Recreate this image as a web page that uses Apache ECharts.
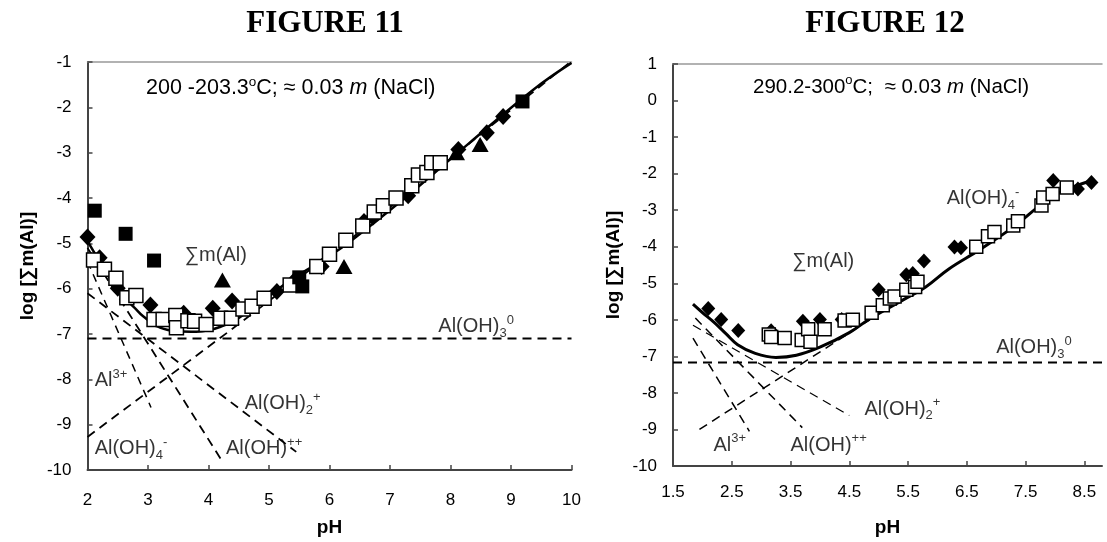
<!DOCTYPE html>
<html><head><meta charset="utf-8">
<script src="https://cdn.jsdelivr.net/npm/echarts@6/dist/echarts.min.js"></script>
<style>html,body{margin:0;padding:0;background:#fff}#c{width:1107px;height:542px}</style>
</head><body><div id="c"></div>
<script>
// ---------- FIGURE 11 (left) ----------
const L_xTicks = [2,3,4,5,6,7,8,9,10];
const L_total = [[2.0,-4.95],[2.2,-5.4],[2.37,-5.77],[2.5,-6.0],[2.65,-6.25],[2.8,-6.45],[2.92,-6.61],[3.2,-6.86],[3.5,-6.94],[3.8,-6.95],[4.0,-6.92],[4.2,-6.84],[4.41,-6.72],[4.6,-6.55],[4.85,-6.32],[5.1,-6.06],[5.4,-5.77],[6.0,-5.28],[6.4,-4.9],[7.2,-4.05],[8.3,-2.8],[9.4,-1.58],[10,-1.02]];
const L_al3 = [[2,-5.4],[3.05,-8.62]];
const L_aloh = [[2,-5.1],[4.2,-9.75]];
const L_aloh2 = [[2,-6.1],[5.45,-9.6]];
const L_aloh3 = [[2,-7.1],[10,-7.1]];
const L_aloh4 = [[2,-9.27],[4.4,-6.88],[6.4,-4.85],[10,-0.98]];
const L_openSq = [[2.1,-5.37],[2.28,-5.57],[2.47,-5.77],[2.65,-6.2],[2.8,-6.15],[3.1,-6.68],[3.25,-6.68],[3.46,-6.59],[3.47,-6.86],[3.66,-6.71],[3.77,-6.72],[3.96,-6.79],[4.2,-6.65],[4.38,-6.65],[4.57,-6.45],[4.72,-6.39],[4.92,-6.21],[5.35,-5.92],[5.79,-5.51],[6.0,-5.24],[6.27,-4.93],[6.55,-4.62],[6.74,-4.31],[6.89,-4.17],[7.1,-4.0],[7.36,-3.73],[7.47,-3.49],[7.61,-3.44],[7.69,-3.22],[7.83,-3.22]];
const L_filledSq = [[2.12,-4.28],[2.63,-4.79],[3.1,-5.38],[5.5,-5.75],[5.55,-5.95],[9.19,-1.87]];
const L_diamond = [[2.0,-4.86],[2.2,-5.32],[2.5,-5.99],[3.04,-6.36],[3.59,-6.54],[4.07,-6.43],[4.39,-6.27],[5.13,-6.06],[5.4,-5.85],[5.87,-5.51],[6.57,-4.52],[6.72,-4.42],[7.3,-3.95],[8.13,-2.93],[8.6,-2.56],[8.87,-2.2]];
const L_triangle = [[4.23,-5.81],[6.24,-5.51],[8.1,-3.0],[8.49,-2.82]];

// ---------- FIGURE 12 (right) ----------
const R_xTicks = [1.5,2.5,3.5,4.5,5.5,6.5,7.5,8.5];
const R_total = [[1.84,-5.57],[2.0,-5.8],[2.2,-6.07],[2.4,-6.38],[2.6,-6.68],[2.9,-6.92],[3.25,-7.03],[3.6,-6.97],[4.0,-6.75],[4.5,-6.35],[4.85,-5.97],[5.5,-5.38],[5.8,-5.1],[6.2,-4.6],[6.7,-4.1],[7.3,-3.45],[7.8,-2.8],[8.1,-2.5],[8.6,-2.2]];
const R_al3 = [[1.84,-6.5],[2.8,-9.05]];
const R_aloh = [[1.88,-5.95],[3.7,-8.95]];
const R_aloh2 = [[1.84,-6.15],[4.5,-8.62]];
const R_aloh3 = [[1.5,-7.17],[8.8,-7.17]];
const R_aloh4 = [[1.95,-9.0],[4.85,-6.0]];
const R_openSq = [[3.13,-6.4],[3.17,-6.47],[3.4,-6.5],[3.69,-6.55],[3.8,-6.26],[3.84,-6.6],[4.08,-6.26],[4.42,-6.02],[4.56,-6.0],[4.88,-5.81],[5.07,-5.6],[5.19,-5.42],[5.27,-5.36],[5.47,-5.18],[5.62,-5.1],[5.66,-4.96],[6.66,-4.0],[6.86,-3.71],[6.97,-3.6],[7.29,-3.42],[7.37,-3.3],[7.77,-2.87],[7.8,-2.65],[7.96,-2.56],[8.2,-2.38]];
const R_diamond = [[2.1,-5.69],[2.32,-5.99],[2.61,-6.29],[3.17,-6.3],[3.71,-6.04],[4.0,-5.99],[4.37,-5.99],[5.0,-5.18],[5.47,-4.77],[5.58,-4.73],[5.77,-4.39],[6.29,-4.01],[6.4,-4.03],[7.97,-2.19],[8.39,-2.42],[8.62,-2.24]];

// ---------- text labels (anchor = text left / vertical centre) ----------
const L_labels = [
  {pos:[3.6,-5.26], text:'{n|∑m(Al)}'},
  {pos:[7.79,-6.84], text:'{n|Al(OH)}{sub|3}{sup|0}'},
  {pos:[2.11,-8.03], text:'{n|Al}{sup|3+}'},
  {pos:[4.59,-8.54], text:'{n|Al(OH)}{sub|2}{sup|+}'},
  {pos:[2.11,-9.53], text:'{n|Al(OH)}{sub|4}{sup|-}'},
  {pos:[4.28,-9.53], text:'{n|Al(OH)}{sup|++}'}
];
const R_labels = [
  {pos:[3.52,-4.41], text:'{n|∑m(Al)}'},
  {pos:[6.15,-2.69], text:'{n|Al(OH)}{sub|4}{sup|-}'},
  {pos:[6.99,-6.76], text:'{n|Al(OH)}{sub|3}{sup|0}'},
  {pos:[4.75,-8.44], text:'{n|Al(OH)}{sub|2}{sup|+}'},
  {pos:[2.18,-9.43], text:'{n|Al}{sup|3+}'},
  {pos:[3.49,-9.43], text:'{n|Al(OH)}{sup|++}'}
];
const L_note = '{n|200 -203.3}{sup|o}{n|C; ≈ 0.03 }{i|m}{n| (NaCl)}';
const R_note = '{n|290.2-300}{sup|o}{n|C;  ≈ 0.03 }{i|m}{n| (NaCl)}';

const FONT = 'Liberation Sans';
function mkRich(fs, ss){
  return {
    n:{fontSize:fs, fontFamily:FONT, fontWeight:'normal', color:'#000', lineHeight:26, verticalAlign:'middle'},
    sup:{fontSize:ss, fontFamily:FONT, fontWeight:'normal', color:'#000', lineHeight:13, verticalAlign:'top'},
    sub:{fontSize:ss, fontFamily:FONT, fontWeight:'normal', color:'#000', lineHeight:13, verticalAlign:'bottom'},
    i:{fontSize:fs, fontFamily:FONT, fontWeight:'normal', color:'#000', lineHeight:26, fontStyle:'italic'}
  };
}
const richLabel = mkRich(20, 13);
const richNoteL = mkRich(21.5, 13.5);
const richNoteR = mkRich(20.5, 13);

const chart = echarts.init(document.getElementById('c'), null, {renderer:'canvas'});

function dashed(name, data, idx, w, dash){
  return {name, type:'line', data, xAxisIndex:idx, yAxisIndex:idx, symbol:'none', silent:true,
    lineStyle:{color:'#000', width:w, type:dash}, z:2};
}
function scat(name, data, idx, symbol, size, fill, z){
  return {name, type:'scatter', data, xAxisIndex:idx, yAxisIndex:idx, symbol, symbolSize:size,
    itemStyle:{color:fill, borderColor:'#000', borderWidth: fill==='#fff'?1.5:0, opacity:1}, z};
}
function labels(list, idx){
  return {type:'scatter', xAxisIndex:idx, yAxisIndex:idx, symbolSize:1, silent:true, z:10,
    itemStyle:{color:'rgba(0,0,0,0)'},
    data:list.map(l=>({value:l.pos, label:{show:true, position:'right', distance:0, formatter:l.text, rich:richLabel}}))};
}

const axisCommon = {
  axisLine:{show:true, onZero:false, lineStyle:{color:'#444', width:2}},
  axisTick:{show:true, inside:true, length:5, lineStyle:{color:'#444', width:1.5}},
  splitLine:{show:false},
  axisLabel:{color:'#000', fontSize:17, fontFamily:FONT}
};
const nameStyle = {color:'#000', fontSize:19, fontWeight:'bold', fontFamily:FONT};
const titleStyle = {fontFamily:'Liberation Serif', fontWeight:'bold', fontSize:31, color:'#000'};

chart.setOption({
  animation:false,
  backgroundColor:'#fff',
  title:[
    {text:'FIGURE 11', left:325, top:8, textAlign:'center', padding:0, textStyle:titleStyle},
    {text:'FIGURE 12', left:885, top:8, textAlign:'center', padding:0, textStyle:titleStyle},
    {text:L_note, left:146, top:75, padding:0, textStyle:{fontWeight:'normal', rich:richNoteL}},
    {text:R_note, left:753, top:74, padding:0, textStyle:{fontWeight:'normal', rich:richNoteR}}
  ],
  grid:[
    {left:87.5, top:62, width:484, height:411},
    {left:673, top:64, width:429, height:405}
  ],
  xAxis:[
    Object.assign({}, axisCommon, {type:'value', gridIndex:0, min:2, max:10, interval:1,
      name:'pH', nameLocation:'middle', nameGap:48, nameTextStyle:nameStyle,
      axisLabel:Object.assign({}, axisCommon.axisLabel, {margin:22, customValues:L_xTicks}),
      axisTick:Object.assign({}, axisCommon.axisTick, {customValues:L_xTicks})}),
    Object.assign({}, axisCommon, {type:'value', gridIndex:1, min:1.5, max:8.8,
      name:'pH', nameLocation:'middle', nameGap:52, nameTextStyle:nameStyle,
      axisLabel:Object.assign({}, axisCommon.axisLabel, {margin:18, customValues:R_xTicks}),
      axisTick:Object.assign({}, axisCommon.axisTick, {customValues:R_xTicks})}),
    {type:'value', gridIndex:0, position:'top', min:2, max:10,
      axisLine:{show:true, onZero:false, lineStyle:{color:'#999', width:1.5}},
      axisTick:{show:false}, axisLabel:{show:false}, splitLine:{show:false}},
    {type:'value', gridIndex:1, position:'top', min:1.5, max:8.8,
      axisLine:{show:true, onZero:false, lineStyle:{color:'#999', width:1.5}},
      axisTick:{show:false}, axisLabel:{show:false}, splitLine:{show:false}}
  ],
  yAxis:[
    Object.assign({}, axisCommon, {type:'value', gridIndex:0, min:-10, max:-1, interval:1,
      name:'log [∑m(Al)]', nameLocation:'middle', nameGap:50, nameTextStyle:nameStyle,
      axisLabel:Object.assign({}, axisCommon.axisLabel, {margin:16})}),
    Object.assign({}, axisCommon, {type:'value', gridIndex:1, min:-10, max:1, interval:1,
      name:'log [∑m(Al)]', nameLocation:'middle', nameGap:50, nameTextStyle:nameStyle,
      axisLabel:Object.assign({}, axisCommon.axisLabel, {margin:16})})
  ],
  series:[
    dashed('L Al3+', L_al3, 0, 1.5, [8,6]),
    dashed('L AlOH++', L_aloh, 0, 1.8, [9,6]),
    dashed('L Al(OH)2+', L_aloh2, 0, 1.8, [9,6]),
    dashed('L Al(OH)3', L_aloh3, 0, 2, [9,6]),
    dashed('L Al(OH)4-', L_aloh4, 0, 1.8, [9,6]),
    {name:'L total', type:'line', data:L_total, xAxisIndex:0, yAxisIndex:0, symbol:'none', smooth:0.4,
      lineStyle:{color:'#000', width:2.5}, z:3},
    scat('L diamond', L_diamond, 0, 'diamond', [16,17], '#000', 4),
    scat('L open', L_openSq, 0, 'rect', 14, '#fff', 5),
    scat('L filled', L_filledSq, 0, 'rect', 14, '#000', 6),
    scat('L tri', L_triangle, 0, 'triangle', [17,15], '#000', 6),
    labels(L_labels, 0),

    dashed('R Al3+', R_al3, 1, 1.5, [9,6]),
    dashed('R AlOH++', R_aloh, 1, 1.5, [9,6]),
    dashed('R Al(OH)2+', R_aloh2, 1, 1.2, [9,6]),
    dashed('R Al(OH)3', R_aloh3, 1, 2, [9,6]),
    dashed('R Al(OH)4-', R_aloh4, 1, 1.5, [9,6]),
    {name:'R total', type:'line', data:R_total, xAxisIndex:1, yAxisIndex:1, symbol:'none', smooth:0.4,
      lineStyle:{color:'#000', width:3}, z:3},
    scat('R diamond', R_diamond, 1, 'diamond', [14,15], '#000', 4),
    scat('R open', R_openSq, 1, 'rect', 13, '#fff', 5),
    labels(R_labels, 1)
  ]
});
</script></body></html>
